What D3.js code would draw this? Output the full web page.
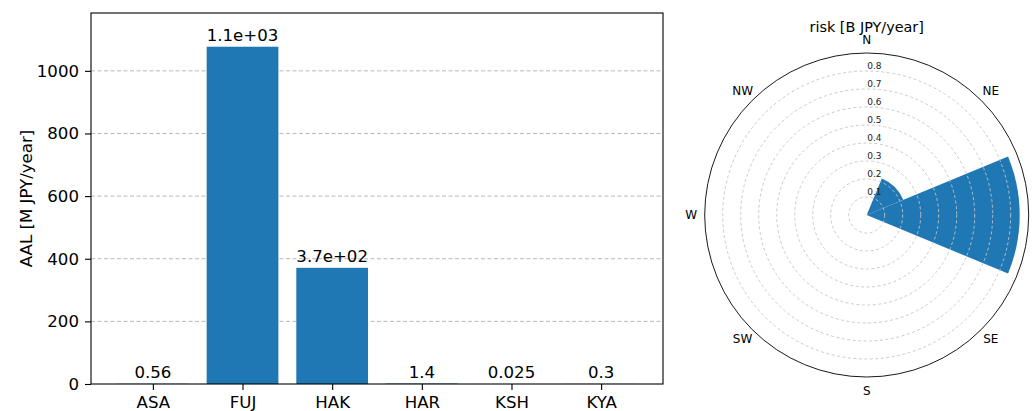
<!DOCTYPE html>
<html lang="en">
<head>
<meta charset="UTF-8">
<script src="https://d3js.org/d3.v7.min.js"></script>
<style>
    body { margin: 0; background: #fff; }
    svg { font-family: "DejaVu Sans", sans-serif; }
    .grid line { stroke: #b0b0b0; stroke-dasharray: 4,2.5; stroke-width: 0.9px; }
    .pgrid { fill: none; stroke: #c4c4c4; stroke-dasharray: 3,2.5; stroke-width: 0.9px; }
</style>
</head>
<body>
<svg width="1036" height="411"></svg>
<script>
// bar chart data
const sites = ["ASA", "FUJ", "HAK", "HAR", "KSH", "KYA"];
const aal = [0.56, 1077, 371, 1.4, 0.025, 0.3];
const aalLabels = ["0.56", "1.1e+03", "3.7e+02", "1.4", "0.025", "0.3"];
const yTicks = [0, 200, 400, 600, 800, 1000];

// rose data
const dirs = ["N", "NE", "E", "SE", "S", "SW", "W", "NW"];
const risk = [0, 0.22, 0.85, 0, 0, 0, 0, 0];
const rTicks = [0.1, 0.2, 0.3, 0.4, 0.5, 0.6, 0.7, 0.8];
const rMax = 0.9;

const svg = d3.select("svg");
const blue = "#1f77b4";

// ---- bar chart ----
const m = {left: 91, right: 663, top: 13, bottom: 384};
const x = d3.scaleLinear().domain([-0.69, sites.length - 1 + 0.69]).range([m.left, m.right]);
const y = d3.scaleLinear().domain([0, d3.max(aal) * 1.1]).range([m.bottom, m.top]);
const bw = (x(1) - x(0)) * 0.8;

svg.append("g").attr("class", "grid")
    .selectAll("line").data(yTicks.filter(d => d > 0)).enter().append("line")
    .attr("x1", m.left).attr("x2", m.right)
    .attr("y1", d => y(d)).attr("y2", d => y(d));

svg.append("g").selectAll("rect").data(aal).enter().append("rect")
    .attr("x", (d, i) => x(i) - bw / 2)
    .attr("width", bw)
    .attr("y", d => y(d))
    .attr("height", d => m.bottom - y(d))
    .attr("fill", blue);

svg.append("g").selectAll("text").data(aal).enter().append("text")
    .attr("x", (d, i) => x(i))
    .attr("y", d => y(d) - 6)
    .attr("text-anchor", "middle")
    .attr("font-size", "16.6px")
    .text((d, i) => aalLabels[i]);

svg.append("rect")
    .attr("x", m.left).attr("y", m.top)
    .attr("width", m.right - m.left).attr("height", m.bottom - m.top)
    .attr("fill", "none").attr("stroke", "#000").attr("stroke-width", 1.1);

const yAxis = svg.append("g").attr("transform", `translate(${m.left},0)`)
    .call(d3.axisLeft(y).tickValues(yTicks).tickFormat(d3.format("d")).tickSize(6).tickPadding(6));
const xAxis = svg.append("g").attr("transform", `translate(0,${m.bottom})`)
    .call(d3.axisBottom(x).tickValues(d3.range(sites.length)).tickFormat(i => sites[i]).tickSize(6).tickPadding(6));
[yAxis, xAxis].forEach(a => {
    a.select(".domain").remove();
    a.selectAll("text").attr("font-size", "16.6px").attr("font-family", "DejaVu Sans").attr("fill", "#000");
    a.selectAll("line").attr("stroke", "#000").attr("stroke-width", 1.1);
});

svg.append("text")
    .attr("transform", `translate(32,${(m.top + m.bottom) / 2}) rotate(-90)`)
    .attr("text-anchor", "middle")
    .attr("font-size", "16.6px")
    .text("AAL [M JPY/year]");

// ---- rose chart ----
const cx = 866.7, cy = 215;
const r = d3.scaleLinear().domain([0, rMax]).range([0, 162]);
const step = 2 * Math.PI / dirs.length;
const p = svg.append("g").attr("transform", `translate(${cx},${cy})`);

const arc = d3.arc()
    .innerRadius(0)
    .outerRadius(d => r(d.v))
    .startAngle(d => d.i * step - step / 2)
    .endAngle(d => d.i * step + step / 2);

p.selectAll("path.wedge").data(risk.map((v, i) => ({v, i})).filter(d => d.v > 0))
    .enter().append("path").attr("class", "wedge")
    .attr("d", arc).attr("fill", blue);

p.selectAll("circle.pgrid").data(rTicks).enter().append("circle")
    .attr("class", "pgrid").attr("r", d => r(d));

p.append("circle").attr("r", r(rMax))
    .attr("fill", "none").attr("stroke", "#000").attr("stroke-width", 0.9);

p.selectAll("text.rlab").data(rTicks).enter().append("text")
    .attr("x", 0.5).attr("y", d => -r(d) - 2.5)
    .attr("font-size", "9px").attr("fill", "#222")
    .text(d => d);

// the E label falls outside the figure in the original, so it is left out
p.selectAll("text.dir").data(dirs.map((d, i) => ({d, i})).filter(o => o.d !== "E"))
    .enter().append("text")
    .attr("x", o => 175.5 * Math.sin(o.i * step))
    .attr("y", o => -175.5 * Math.cos(o.i * step))
    .attr("dy", "0.36em")
    .attr("text-anchor", "middle")
    .attr("font-size", "12px")
    .text(o => o.d);

svg.append("text")
    .attr("x", cx).attr("y", 31.5)
    .attr("text-anchor", "middle")
    .attr("font-size", "14.4px")
    .text("risk [B JPY/year]");
</script>
</body>
</html>
